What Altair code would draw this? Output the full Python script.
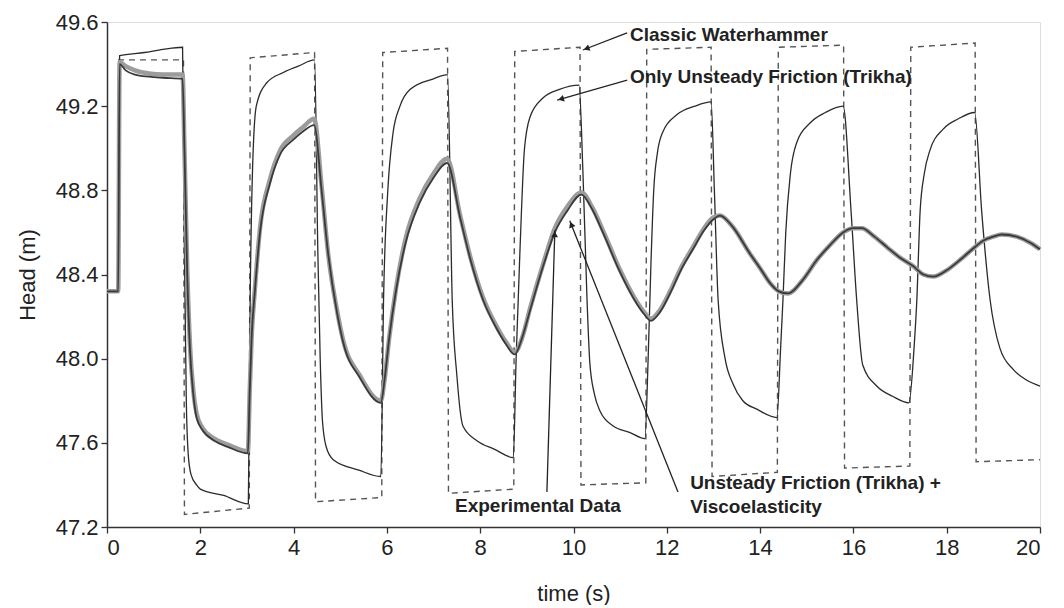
import math
import altair as alt
import pandas as pd

# ---------------- data ----------------
X_TICKS = [0, 2, 4, 6, 8, 10, 12, 14, 16, 18, 20]
Y_TICKS = [47.2, 47.6, 48.0, 48.4, 48.8, 49.2, 49.6]

# Classic Waterhammer (dashed)
CW_T = [0, 0.24, 0.25, 1.64, 1.66, 3.05, 3.07, 4.45, 4.47, 5.89, 5.91, 7.30, 7.32,
        8.72, 8.74, 10.14, 10.16, 11.55, 11.57, 12.95, 12.97, 14.37, 14.39, 15.79,
        15.81, 17.21, 17.23, 18.61, 18.63, 20.0]
CW_H = [48.32, 48.32, 49.42, 49.42, 47.26, 47.29, 49.43, 49.455, 47.32, 47.34, 49.455,
        49.475, 47.36, 47.38, 49.46, 49.48, 47.40, 47.41, 49.47, 49.48, 47.44, 47.46,
        49.48, 49.49, 47.48, 47.49, 49.48, 49.50, 47.51, 47.52]

# Only Unsteady Friction (Trikha) (thin solid)
UF_T = [0, 0.24, 0.27, 0.8, 1.2, 1.62,
        1.66, 1.70, 1.74, 1.80, 1.92, 2.0, 2.5, 3.03,
        3.07, 3.12, 3.2, 3.42, 3.78, 4.1, 4.45,
        4.52, 4.57, 4.62, 4.70, 4.85, 5.4, 5.87,
        5.93, 6.02, 6.13, 6.28, 6.5, 7.0, 7.30,
        7.40, 7.50, 7.63, 7.93, 8.3, 8.71,
        8.77, 8.85, 8.95, 9.07, 9.35, 9.7, 10.12,
        10.20, 10.29, 10.35, 10.45, 10.57, 10.85, 11.2, 11.53,
        11.6, 11.66, 11.72, 11.8, 11.92, 12.22, 12.6, 12.95,
        13.02, 13.10, 13.25, 13.42, 13.63, 13.93, 14.36,
        14.44, 14.49, 14.55, 14.65, 14.79, 15.07, 15.4, 15.78,
        15.95, 16.07, 16.2, 16.5, 16.85, 17.19,
        17.3, 17.36, 17.43, 17.52, 17.64, 17.92, 18.25, 18.6,
        18.75, 18.93, 19.14, 19.42, 19.7, 20.0]
UF_H = [48.32, 48.32, 49.44, 49.455, 49.47, 49.48,
        48.5, 47.8, 47.55, 47.45, 47.40, 47.38, 47.35, 47.31,
        48.3, 48.9, 49.2, 49.31, 49.36, 49.39, 49.42,
        48.5, 48.0, 47.7, 47.58, 47.52, 47.47, 47.44,
        48.3, 48.8, 49.07, 49.2, 49.28, 49.33, 49.35,
        48.28, 47.92, 47.68, 47.61, 47.57, 47.53,
        48.0, 48.5, 49.0, 49.15, 49.24, 49.28, 49.30,
        48.9, 48.28, 47.98, 47.83, 47.75, 47.68, 47.65, 47.62,
        48.0, 48.45, 48.8, 48.98, 49.08, 49.16, 49.2, 49.22,
        48.8, 48.28, 48.0, 47.88, 47.8, 47.76, 47.72,
        48.05, 48.28, 48.6, 48.88, 49.03, 49.12, 49.17, 49.2,
        48.7, 48.28, 47.97, 47.87, 47.82, 47.79,
        48.05, 48.28, 48.7, 48.88, 48.99, 49.09, 49.14, 49.17,
        48.7, 48.28, 48.05, 47.95, 47.9, 47.87]

# Unsteady Friction (Trikha) + Viscoelasticity (dark) and Experimental Data (grey)
VE_T = [0, 0.24, 0.27, 0.4, 0.6, 0.9, 1.2, 1.62, 1.66, 1.72, 1.78, 1.85, 1.92, 2.05,
        2.3, 2.6, 3.02, 3.06, 3.1, 3.17, 3.28, 3.49, 3.71, 3.99, 4.2, 4.44, 4.6, 4.74,
        4.93, 5.06, 5.42, 5.87, 5.95, 6.05, 6.2, 6.4, 6.7, 7.0, 7.29, 7.57, 7.78, 8.06,
        8.36, 8.55, 8.74, 8.9, 9.07, 9.35, 9.6, 9.86, 10.17, 10.4, 10.63, 11.0, 11.36,
        11.52, 11.66, 11.85, 12.07, 12.3, 12.56, 12.8, 12.99, 13.14, 13.4, 13.78, 14.0,
        14.21, 14.4, 14.6, 14.9, 15.22, 15.5, 15.78, 16.0, 16.18, 16.45, 16.72, 17.0,
        17.28, 17.5, 17.71, 18.0, 18.29, 18.55, 18.78, 19.0, 19.18, 19.5, 19.8, 20.0]
VE_H = [48.32, 48.32, 49.40, 49.37, 49.35, 49.34, 49.335, 49.33, 49.0, 48.4, 48.04,
        47.83, 47.72, 47.66, 47.61, 47.58, 47.55, 47.85, 48.1, 48.32, 48.6, 48.83,
        48.97, 49.04, 49.08, 49.11, 48.8, 48.5, 48.22, 48.08, 47.91, 47.79, 47.9,
        48.1, 48.33, 48.55, 48.74, 48.86, 48.93, 48.67, 48.48, 48.28, 48.14, 48.07,
        48.02, 48.1, 48.23, 48.44, 48.6, 48.7, 48.78, 48.71, 48.6, 48.41, 48.26,
        48.21, 48.18, 48.22, 48.31, 48.42, 48.52, 48.61, 48.66, 48.68, 48.63, 48.5,
        48.43, 48.36, 48.32, 48.31, 48.37, 48.47, 48.54, 48.6, 48.62, 48.62, 48.58,
        48.53, 48.48, 48.44, 48.40, 48.39, 48.42, 48.47, 48.52, 48.56, 48.58, 48.59,
        48.58, 48.55, 48.52]
EXP_H = [48.32, 48.32, 49.41, 49.39, 49.37, 49.355, 49.35, 49.35, 49.0, 48.42, 48.06,
         47.85, 47.74, 47.67, 47.62, 47.59, 47.56, 47.85, 48.1, 48.33, 48.62, 48.85,
         48.99, 49.06, 49.10, 49.14, 48.82, 48.5, 48.23, 48.09, 47.92, 47.80, 47.9,
         48.1, 48.34, 48.57, 48.76, 48.88, 48.95, 48.68, 48.49, 48.29, 48.15, 48.08,
         48.03, 48.1, 48.24, 48.45, 48.62, 48.72, 48.79, 48.72, 48.61, 48.42, 48.27,
         48.22, 48.19, 48.23, 48.32, 48.43, 48.53, 48.62, 48.67, 48.68, 48.63, 48.5,
         48.43, 48.36, 48.32, 48.31, 48.37, 48.47, 48.54, 48.6, 48.62, 48.62, 48.58,
         48.53, 48.48, 48.44, 48.40, 48.39, 48.42, 48.47, 48.52, 48.56, 48.58, 48.59,
         48.58, 48.55, 48.52]

# annotations
LABELS = ["Classic Waterhammer", "Only Unsteady Friction (Trikha)", "Experimental Data",
          "Unsteady Friction (Trikha) +", "Viscoelasticity"]
LABEL_T = [11.21, 11.21, 7.46, 12.5, 12.5]
LABEL_H = [49.538, 49.34, 47.30, 47.41, 47.295]

ARROW_T1 = [11.15, 11.15, 9.43, 12.24]
ARROW_H1 = [49.548, 49.324, 47.366, 47.366]
ARROW_T2 = [10.2, 9.65, 9.6, 9.92]
ARROW_H2 = [49.467, 49.229, 48.61, 48.655]

# ---------------- chart ----------------
W, H = 933, 505
X_DOM = [0, 20]
Y_DOM = [47.2, 49.6]
FONT = "Liberation Sans"

xs = alt.Scale(domain=X_DOM, nice=False, zero=False)
ys = alt.Scale(domain=Y_DOM, nice=False, zero=False)

x_axis = alt.Axis(values=X_TICKS, title="time (s)", grid=False, labelFontSize=22,
                  titleFontSize=22, labelFont=FONT, titleFont=FONT, titleFontWeight="normal",
                  labelColor="#222", titleColor="#222", tickColor="#333", domainColor="#333",
                  domainWidth=1.5, tickWidth=1.3, tickSize=6, labelPadding=4, titlePadding=25)
y_axis = alt.Axis(values=Y_TICKS, format=".1f", title="Head (m)", grid=False,
                  labelFontSize=22, titleFontSize=22, labelFont=FONT, titleFont=FONT,
                  titleFontWeight="normal", labelColor="#222", titleColor="#222",
                  tickColor="#333", domainColor="#333", domainWidth=1.5, tickWidth=1.3,
                  tickSize=6, labelPadding=3, titlePadding=16)


def series(ts, hs):
    return pd.DataFrame({"t": ts, "h": hs, "i": list(range(len(ts)))})


def line(df, **kw):
    return alt.Chart(df).mark_line(**kw).encode(
        x=alt.X("t:Q", scale=xs, axis=x_axis),
        y=alt.Y("h:Q", scale=ys, axis=y_axis),
        order="i:Q",
    )


cw = line(series(CW_T, CW_H), color="#555", strokeWidth=1.4, strokeDash=[6, 5])
uf = line(series(UF_T, UF_H), color="#2b2b2b", strokeWidth=1.3, interpolate="monotone")
ex = line(series(VE_T, EXP_H), color="#9c9c9c", strokeWidth=4.5, interpolate="monotone")
ve = line(series(VE_T, VE_H), color="#3a3a3a", strokeWidth=1.8, interpolate="monotone")

lab_df = pd.DataFrame({"t": LABEL_T, "h": LABEL_H, "txt": LABELS})
labels = alt.Chart(lab_df).mark_text(align="left", baseline="middle", font=FONT,
                                     fontSize=19, fontWeight="bold", color="#222").encode(
    x=alt.X("t:Q", scale=xs), y=alt.Y("h:Q", scale=ys), text="txt:N")

arr_df = pd.DataFrame({"t1": ARROW_T1, "h1": ARROW_H1, "t2": ARROW_T2, "h2": ARROW_H2})
px_t = W / (X_DOM[1] - X_DOM[0])
px_h = H / (Y_DOM[1] - Y_DOM[0])
angles, ht, hh = [], [], []
for a in arr_df.itertuples():
    dx = (a.t2 - a.t1) * px_t
    dy = -(a.h2 - a.h1) * px_h
    L = math.hypot(dx, dy)
    angles.append(math.degrees(math.atan2(dx, -dy)) % 360)
    back = 4.0
    ht.append(a.t2 - dx / L * back / px_t)
    hh.append(a.h2 + dy / L * back / px_h)
arr_df["ang"] = angles
arr_df["ht"] = ht
arr_df["hh"] = hh

shafts = alt.Chart(arr_df).mark_rule(color="#222", strokeWidth=1.3).encode(
    x=alt.X("t1:Q", scale=xs), y=alt.Y("h1:Q", scale=ys), x2="t2:Q", y2="h2:Q")
heads = alt.Chart(arr_df).mark_point(shape="triangle-up", filled=True, color="#222",
                                     size=45, opacity=1).encode(
    x=alt.X("ht:Q", scale=xs), y=alt.Y("hh:Q", scale=ys),
    angle=alt.Angle("ang:Q", scale=None))

chart = alt.layer(cw, uf, ex, ve, shafts, heads, labels).properties(
    width=W, height=H,
    autosize=alt.AutoSizeParams(type="none"),
    padding={"left": 99, "top": 14, "right": 16, "bottom": 78},
).configure_view(stroke="#333", strokeWidth=1.5).configure(background="white")

chart.save("out.html", embed_options={"renderer": "svg", "actions": False})
